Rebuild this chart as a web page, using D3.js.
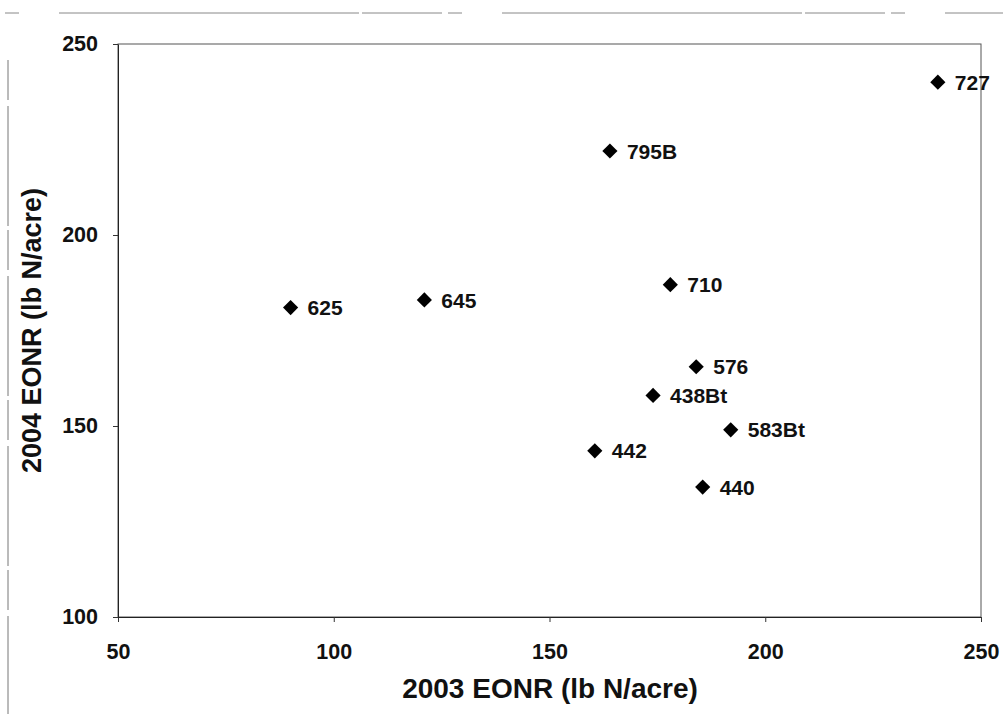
<!DOCTYPE html>
<html>
<head>
<meta charset="utf-8">
<script src="https://cdn.jsdelivr.net/npm/d3@7"></script>
<style>
  body { margin: 0; background: #fff; }
  text { font-family: "Liberation Sans", Arial, sans-serif; fill: #111; }
</style>
</head>
<body>
<div id="chart"></div>
<script>
// data
const labels = ['625', '645', '795B', '727', '710', '576', '438Bt', '583Bt', '442', '440'];
const eonr2003 = [90, 121, 164, 240, 178, 184, 174, 192, 160.5, 185.5];
const eonr2004 = [181, 183, 222, 240, 187, 165.5, 158, 149, 143.5, 134];
const x_ticks = [50, 100, 150, 200, 250];
const y_ticks = [100, 150, 200, 250];

const points = labels.map((d, i) => ({label: d, x: eonr2003[i], y: eonr2004[i]}));

const svg_width = 1003;
const svg_height = 714;
const margin = {top: 44, right: 22, bottom: 97, left: 118};
const chart_width = svg_width - margin.left - margin.right;
const chart_height = svg_height - margin.top - margin.bottom;

const svg = d3.select('#chart')
  .append('svg')
  .attr('width', svg_width)
  .attr('height', svg_height);

// scan artefacts at page edges
svg.append('line')
  .attr('x1', 5).attr('x2', 1003).attr('y1', 13).attr('y2', 13)
  .style('stroke', '#888').style('stroke-width', 1)
  .style('stroke-dasharray', '14,40,300,3,80,6');
svg.append('line')
  .attr('x1', 8).attr('x2', 8).attr('y1', 60).attr('y2', 714)
  .style('stroke', '#777').style('stroke-width', 1)
  .style('stroke-dasharray', '40,6,120,4');

const g = svg.append('g')
  .attr('transform', `translate(${margin.left},${margin.top})`);

const x_scale = d3.scaleLinear([50, 250], [0, chart_width]);
const y_scale = d3.scaleLinear([100, 250], [chart_height, 0]);

// plot frame
g.append('rect')
  .attr('width', chart_width)
  .attr('height', chart_height)
  .style('fill', 'none')
  .style('stroke', '#555')
  .style('stroke-width', 1);

const x_axis = d3.axisBottom(x_scale).tickValues(x_ticks).tickSizeInner(5).tickSizeOuter(0).tickPadding(22);
const y_axis = d3.axisLeft(y_scale).tickValues(y_ticks).tickSizeInner(5).tickSizeOuter(0).tickPadding(15);

const x_draw = g.append('g')
  .attr('transform', `translate(0,${chart_height})`)
  .call(x_axis);
const y_draw = g.append('g').call(y_axis);

[x_draw, y_draw].forEach(a => {
  a.select('.domain').style('stroke', '#222');
  a.selectAll('.tick line').style('stroke', '#333');
  a.selectAll('.tick text')
    .style('font-family', '"Liberation Sans", Arial, sans-serif')
    .style('font-size', '21.5px')
    .style('font-weight', 'bold')
    .style('fill', '#111');
});

// markers
const diamond = d3.symbol(d3.symbolSquare, 115);
g.selectAll('.pt')
  .data(points)
  .join('path')
  .attr('class', 'pt')
  .attr('d', diamond)
  .attr('transform', d => `translate(${x_scale(d.x)},${y_scale(d.y)}) rotate(45)`)
  .style('fill', '#000');

g.selectAll('.pt-label')
  .data(points)
  .join('text')
  .attr('class', 'pt-label')
  .attr('x', d => x_scale(d.x) + 17)
  .attr('y', d => y_scale(d.y))
  .attr('dy', '0.36em')
  .style('font-size', '21px')
  .style('font-weight', 'bold')
  .text(d => d.label);

// axis titles
svg.append('text')
  .attr('x', 550)
  .attr('y', 698)
  .attr('text-anchor', 'middle')
  .style('font-size', '28px')
  .style('font-weight', 'bold')
  .text('2003 EONR (lb N/acre)');

svg.append('text')
  .attr('transform', `translate(41,${margin.top + chart_height / 2}) rotate(-90)`)
  .attr('text-anchor', 'middle')
  .style('font-size', '27px')
  .style('font-weight', 'bold')
  .text('2004 EONR (lb N/acre)');
</script>
</body>
</html>
